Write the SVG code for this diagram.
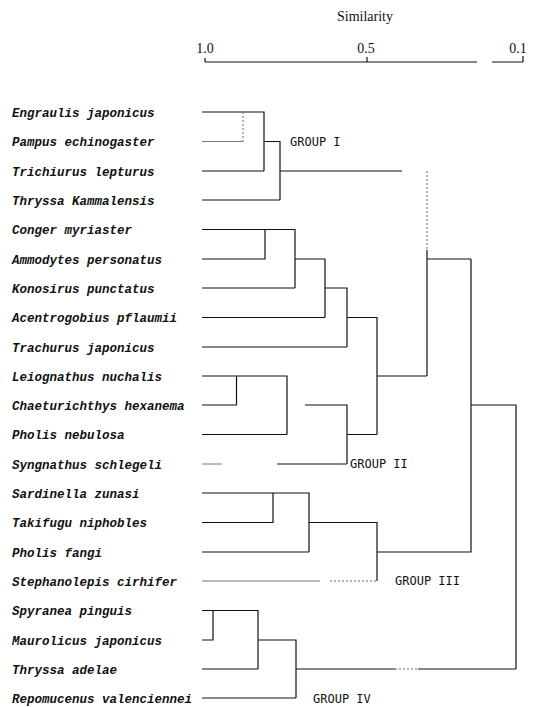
<svg xmlns="http://www.w3.org/2000/svg" width="534" height="707" viewBox="0 0 534 707">
<style>
.lbl{font-family:"Liberation Mono",monospace;font-style:italic;font-weight:bold;font-size:12.5px;fill:#111}
.grp{font-family:"DejaVu Sans Mono",monospace;font-size:12px;fill:#111}
.ax{font-family:"Liberation Serif",serif;font-size:14px;fill:#111}
.ln{stroke:#111;stroke-width:1.2;fill:none}
.fa{stroke:#777;stroke-width:1;fill:none}
.dt{stroke:#666;stroke-width:1;fill:none;stroke-dasharray:2 2}
</style>
<rect width="534" height="707" fill="#fff"/>
<g id="axis">
<text class="ax" x="365" y="21" text-anchor="middle" font-size="15">Similarity</text>
<text class="ax" x="205" y="53" text-anchor="middle">1.0</text>
<text class="ax" x="366" y="53" text-anchor="middle">0.5</text>
<text class="ax" x="518" y="53" text-anchor="middle">0.1</text>
<path class="ln" d="M205,62H477M492,62H523M205,58V62M367,57V62M523,56V62"/>
</g>
<g id="labels">
<g id="n0"><text class="lbl" x="12" y="116.5">Engraulis japonicus</text></g>
<g id="n1"><text class="lbl" x="12" y="146">Pampus echinogaster</text></g>
<g id="n2"><text class="lbl" x="12" y="175.5">Trichiurus lepturus</text></g>
<g id="n3"><text class="lbl" x="12" y="204.5">Thryssa Kammalensis</text></g>
<g id="n4"><text class="lbl" x="12" y="234">Conger myriaster</text></g>
<g id="n5"><text class="lbl" x="12" y="263.5">Ammodytes personatus</text></g>
<g id="n6"><text class="lbl" x="12" y="292.5">Konosirus punctatus</text></g>
<g id="n7"><text class="lbl" x="12" y="322">Acentrogobius pflaumii</text></g>
<g id="n8"><text class="lbl" x="12" y="351.5">Trachurus japonicus</text></g>
<g id="n9"><text class="lbl" x="12" y="380.5">Leiognathus nuchalis</text></g>
<g id="n10"><text class="lbl" x="12" y="409.5">Chaeturichthys hexanema</text></g>
<g id="n11"><text class="lbl" x="12" y="439">Pholis nebulosa</text></g>
<g id="n12"><text class="lbl" x="12" y="468.5">Syngnathus schlegeli</text></g>
<g id="n13"><text class="lbl" x="12" y="497.5">Sardinella zunasi</text></g>
<g id="n14"><text class="lbl" x="12" y="527">Takifugu niphobles</text></g>
<g id="n15"><text class="lbl" x="12" y="556.5">Pholis fangi</text></g>
<g id="n16"><text class="lbl" x="12" y="585.5">Stephanolepis cirhifer</text></g>
<g id="n17"><text class="lbl" x="12" y="615">Spyranea pinguis</text></g>
<g id="n18"><text class="lbl" x="12" y="644.5">Maurolicus japonicus</text></g>
<g id="n19"><text class="lbl" x="12" y="673.5">Thryssa adelae</text></g>
<g id="n20"><text class="lbl" x="12" y="702.5">Repomucenus valenciennei</text></g>
</g>
<g id="groups">
<g id="g1"><text class="grp" x="290" y="146">GROUP I</text></g>
<g id="g2"><text class="grp" x="350" y="468">GROUP II</text></g>
<g id="g3"><text class="grp" x="395" y="585">GROUP III</text></g>
<g id="g4"><text class="grp" x="313" y="703">GROUP IV</text></g>
</g>
<g id="connectors">
<path class="ln" d="M202,112H264V171M202,171H264M264,141.5H280V200M202,200H280M280,171H402"/>
<path class="fa" d="M202,141.5H243"/>
<path class="dt" d="M243,112V141.5"/>
<path class="dt" d="M427,171V250"/>
<path class="ln" d="M427,250V376M427,259H471"/>
<path class="ln" d="M202,229.5H295V288M202,259H265V229.5M202,288H295M295,259H325V317.5M202,317.5H325M325,288H347V347M202,347H347M347,317.5H377V434.5M377,376H427"/>
<path class="ln" d="M202,376H287V434.5M202,405H236.5V376M202,434.5H287M305,405H347V464M347,434.5H377"/>
<path class="ln" d="M277,464H347"/>
<path class="fa" d="M202,464H222"/>
<path class="ln" d="M202,493H309V552M202,522.5H273V493M202,552H309M309,522.5H377V581M377,552H471V259M471,405H516V669"/>
<path class="fa" d="M202,581H320"/>
<path class="dt" d="M330,581H377"/>
<path class="ln" d="M202,610.5H258V669M202,640H213V610.5M202,669H258M258,640H296V698M202,698H296M296,669H395M418,669H516"/>
<path class="dt" d="M395,669H418"/>
</g>
</svg>
